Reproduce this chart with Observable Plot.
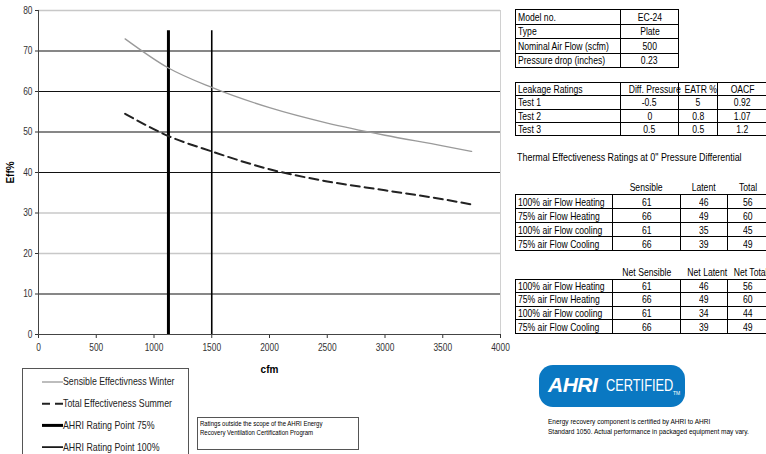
<!DOCTYPE html>
<html><head><meta charset="utf-8">
<script src="https://cdn.jsdelivr.net/npm/d3@7"></script>
<script src="https://cdn.jsdelivr.net/npm/@observablehq/plot@0.6"></script>
<style>
body{margin:0;background:#fff;width:766px;height:454px;overflow:hidden;position:relative;font-family:"Liberation Sans",Arial,sans-serif;color:#000;}
#chart{position:absolute;left:0;top:0;}
#chart svg [aria-label$="axis label"] text, #chart svg [aria-label$="axis label"]{font-weight:bold;font-size:10px;fill:#000;}
#legend svg text{transform-box:fill-box;transform-origin:left center;transform:scaleX(.84);}
.n{display:inline-block;transform:scaleX(.82);transform-origin:left center;}
.c .n, .h .n{transform-origin:center center;}
table.t{position:absolute;border-collapse:collapse;font-size:10.5px;table-layout:fixed;}
table.t td{border:1px solid #000;padding:0 2px;white-space:nowrap;line-height:12px;}
table.t td.c{text-align:center;}
table.t tr.h td{border:none;text-align:center;}
.lbl{position:absolute;font-size:10.5px;white-space:nowrap;}
.lbl .n{transform:scaleX(.85);}
#legend{position:absolute;left:22px;top:368px;}
#scope{position:absolute;left:197px;top:417px;width:162px;height:33px;border:1px solid #555;font-size:7px;line-height:9px;padding:1px 2px;box-sizing:border-box;}
#scope .n{transform:scaleX(.86);}
#logo{position:absolute;left:539px;top:365px;width:146px;height:42px;background:#0a78c2;border-radius:14px;color:#fff;overflow:hidden;}
#logo .a{position:absolute;left:9px;top:8px;font:italic bold 21px "Liberation Sans",Arial,sans-serif;letter-spacing:-0.5px;}
#logo .b{position:absolute;left:67px;top:12px;font:16px "Liberation Sans",Arial,sans-serif;transform:scaleX(.8);transform-origin:left center;}
#logo .tm{position:absolute;left:134px;top:25px;font:5px "Liberation Sans",Arial,sans-serif;}
#cap{position:absolute;left:548px;top:417px;font-size:6.5px;line-height:10px;white-space:nowrap;}
</style></head>
<body>
<div id="chart"></div>
<div id="tables"></div>
<div id="legend"></div>
<div id="scope"><span class="n">Ratings outside the scope of the AHRI Energy</span><br><span class="n">Recovery Ventilation Certification Program</span></div>
<div id="logo"><span class="a">AHRI</span><span class="b">CERTIFIED</span><span class="tm">TM</span></div>
<div id="cap">Energy recovery component is certified by AHRI to AHRI<br>Standard 1050. Actual performance in packaged equipment may vary.</div>
<script>
// ---- chart data ----
const cfm = [750, 1125, 1500, 2000, 2500, 3000, 3500, 3750];
const sensibleWinter = [73, 65.8, 61, 56, 52.2, 49.2, 46.6, 45.2];
const totalSummer = [54.5, 49, 45.2, 40.8, 37.8, 35.6, 33.4, 32.1];
const ratingPoints = ["AHRI Rating Point 75%", "AHRI Rating Point 100%"];
const ratingCfm = [1125, 1500];
const ratingTop = [75, 75];
const xTicks = [0, 500, 1000, 1500, 2000, 2500, 3000, 3500, 4000];
const yTicks = [0, 10, 20, 30, 40, 50, 60, 70, 80];
const lightGrid = [20, 30, 80];
const seriesNames = ["Sensible Effectivness Winter", "Total Effectiveness Summer"];

// ---- table data ----
const specLabels = ["Model no.", "Type", "Nominal Air Flow (scfm)", "Pressure drop (inches)"];
const specValues = ["EC-24", "Plate", "500", "0.23"];
const leakHeader = ["Leakage Ratings", "Diff. Pressure", "EATR %", "OACF"];
const leakTests = ["Test 1", "Test 2", "Test 3"];
const leakDiff = ["-0.5", "0", "0.5"];
const leakEatr = ["5", "0.8", "0.5"];
const leakOacf = ["0.92", "1.07", "1.2"];
const thermalTitle = "Thermal Effectiveness Ratings at 0\" Pressure Differential";
const condRows = ["100% air Flow Heating", "75% air Flow Heating", "100% air Flow cooling", "75% air Flow Cooling"];
const thermHeader = ["Sensible", "Latent", "Total"];
const thermSensible = [61, 66, 61, 66];
const thermLatent = [46, 49, 35, 39];
const thermTotal = [56, 60, 45, 49];
const netHeader = ["Net Sensible", "Net Latent", "Net Total"];
const netSensible = [61, 66, 61, 66];
const netLatent = [46, 49, 34, 39];
const netTotal = [56, 60, 44, 49];

const sens = cfm.map((x, i) => ({x, y: sensibleWinter[i]}));
const tot = cfm.map((x, i) => ({x, y: totalSummer[i]}));
const rp = ratingCfm.map((x, i) => ({x, top: ratingTop[i], name: ratingPoints[i]}));

const chart = Plot.plot({
  width: 525, height: 382,
  marginLeft: 38, marginRight: 25, marginTop: 10, marginBottom: 48,
  style: {fontFamily: '"Liberation Sans",Arial,sans-serif', fontSize: "10px", color: "#333", background: "transparent"},
  x: {domain: [0, 4000], ticks: xTicks, tickSize: 4, tickPadding: 5, label: "cfm", labelArrow: "none", labelAnchor: "center", labelOffset: 38, tickFormat: d => String(d)},
  y: {domain: [0, 80], ticks: yTicks, tickSize: 3, tickPadding: 3, label: "Eff%", labelArrow: "none", labelAnchor: "center", labelOffset: 32},
  marks: [
    Plot.ruleY(yTicks.filter(v => v > 0 && lightGrid.includes(v)), {stroke: "#c8c8c8", strokeWidth: 1.5}),
    Plot.ruleY(yTicks.filter(v => v > 0 && !lightGrid.includes(v)), {stroke: "#111", strokeWidth: 1.1}),
    Plot.ruleX([4000], {stroke: "#d0d0d0", strokeWidth: 1}),
    Plot.ruleX([0], {stroke: "#444", strokeWidth: 1}),
    Plot.ruleY([0], {stroke: "#444", strokeWidth: 1}),
    Plot.ruleX(rp.slice(0, 1), {x: "x", y1: 0, y2: "top", stroke: "#000", strokeWidth: 3}),
    Plot.ruleX(rp.slice(1), {x: "x", y1: 0, y2: "top", stroke: "#000", strokeWidth: 1.6}),
    Plot.line(sens, {x: "x", y: "y", stroke: "#9a9a9a", strokeWidth: 1.3, curve: "monotone-x"}),
    Plot.line(tot, {x: "x", y: "y", stroke: "#222", strokeWidth: 2, strokeDasharray: "9,5", curve: "monotone-x"})
  ]
});
// narrow the tick labels (reference uses a condensed face)
chart.querySelectorAll('[aria-label$="tick label"] text').forEach(t => {
  const tr = t.getAttribute("transform");
  if (tr) t.setAttribute("transform", tr + " scale(0.84,1)");
});
document.getElementById("chart").appendChild(chart);

// ---- legend ----
const lg = d3.select("#legend").append("svg").attr("width", 168).attr("height", 90);
lg.append("rect").attr("x", 0.5).attr("y", 0.5).attr("width", 166).attr("height", 100).attr("fill", "none").attr("stroke", "#555");
const legendItems = [
  {name: seriesNames[0], stroke: "#9a9a9a", w: 1.3, dash: null},
  {name: seriesNames[1], stroke: "#222", w: 2, dash: "8,5"},
  {name: ratingPoints[0], stroke: "#000", w: 3, dash: null},
  {name: ratingPoints[1], stroke: "#000", w: 1.6, dash: null}
];
legendItems.forEach((d, i) => {
  const y = 14 + i * 21.7;
  lg.append("line").attr("x1", 20).attr("x2", 41).attr("y1", y).attr("y2", y)
    .attr("stroke", d.stroke).attr("stroke-width", d.w).attr("stroke-dasharray", d.dash);
  lg.append("text").attr("x", 41).attr("y", y + 3.5).text(d.name)
    .attr("font-size", 10.5).attr("fill", "#222")
    .attr("font-family", '"Liberation Sans",Arial,sans-serif');
});

// ---- tables ----
const host = document.getElementById("tables");
function cellSpan(v) { const s = document.createElement("span"); s.className = "n"; s.textContent = v; return s; }
function makeTable(left, top, widths, rows, rowH, headerRow) {
  const t = document.createElement("table");
  t.className = "t";
  t.style.left = left + "px"; t.style.top = top + "px";
  t.style.width = widths.reduce((a, b) => a + b, 0) + "px";
  const cg = document.createElement("colgroup");
  widths.forEach(w => { const c = document.createElement("col"); c.style.width = w + "px"; cg.appendChild(c); });
  t.appendChild(cg);
  if (headerRow) {
    const tr = document.createElement("tr"); tr.className = "h";
    headerRow.forEach(v => { const td = document.createElement("td"); td.appendChild(cellSpan(v)); td.style.height = rowH + "px"; tr.appendChild(td); });
    t.appendChild(tr);
  }
  rows.forEach(r => {
    const tr = document.createElement("tr");
    r.forEach((v, j) => { const td = document.createElement("td"); td.appendChild(cellSpan(v)); if (j > 0) td.className = "c"; td.style.height = (rowH - 1) + "px"; tr.appendChild(td); });
    t.appendChild(tr);
  });
  host.appendChild(t);
}
makeTable(515, 9, [105, 58], specLabels.map((l, i) => [l, specValues[i]]), 14.5);
makeTable(515, 82, [105, 58, 39, 50], [leakHeader].concat(leakTests.map((l, i) => [l, leakDiff[i], leakEatr[i], leakOacf[i]])), 13.3);
const tt = document.createElement("div"); tt.className = "lbl"; tt.style.left = "517px"; tt.style.top = "151px"; tt.appendChild(cellSpan(thermalTitle)); host.appendChild(tt);
makeTable(515, 180, [97, 68, 47, 41], condRows.map((l, i) => [l, thermSensible[i], thermLatent[i], thermTotal[i]]), 14, [""].concat(thermHeader));
makeTable(515, 265, [97, 68, 47, 41], condRows.map((l, i) => [l, netSensible[i], netLatent[i], netTotal[i]]), 13.6, [""].concat(netHeader));
</script>
</body></html>
